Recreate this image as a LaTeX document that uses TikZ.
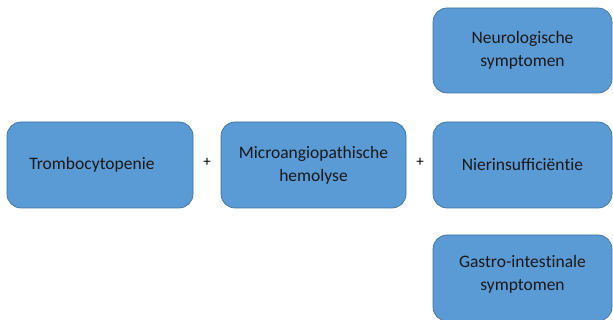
\documentclass[tikz,border=0pt]{standalone}
\usepackage{fontspec}
\setmainfont{Carlito}
\begin{document}
\begin{tikzpicture}[x=1pt,y=-1pt,
  box/.style={draw=bordercol, fill=boxfill, line width=0.7pt, rounded corners=14pt, align=center, font=\fontsize{17.5}{23}\selectfont, text=black!90, inner sep=0pt},
  lbl/.style={font=\fontsize{17.5}{23}\selectfont, text=black!90, inner sep=0pt, align=center},
  plus/.style={font=\fontsize{15}{18}\selectfont, inner sep=0pt}]
\definecolor{boxfill}{HTML}{5B9BD5}
\definecolor{bordercol}{HTML}{41719C}
\useasboundingbox (0,0) rectangle (613,320);
\begin{scope}
\clip (0,0) rectangle (613,320);
\node[box, minimum width=186pt, minimum height=86pt] (t) at (100,165) {};
\node[lbl] (tl) at ([xshift=-8pt]t.center) {Trombocytopenie};
\node[box, minimum width=185pt, minimum height=86pt] (m) at (313.5,165) {Microangiopathische\\hemolyse};
\node[box, minimum width=179pt, minimum height=85pt] (n) at (522.5,50.5) {Neurologische\\symptomen};
\node[box, minimum width=179pt, minimum height=86pt] (r) at (522.5,165) {Nierinsufficiën\kern0pt t\kern0pt ie};
\node[box, minimum width=179pt, minimum height=86pt] (g) at (522.5,278) {};
\node[lbl] (gl) at ([yshift=4pt]g.center) {Gastro-in\kern0pt tes\kern0pt t\kern0pt inale\\symptomen};
\node[plus] (p1) at (207,162) {+};
\node[plus] (p2) at (420,162) {+};
\end{scope}
\end{tikzpicture}
\end{document}
